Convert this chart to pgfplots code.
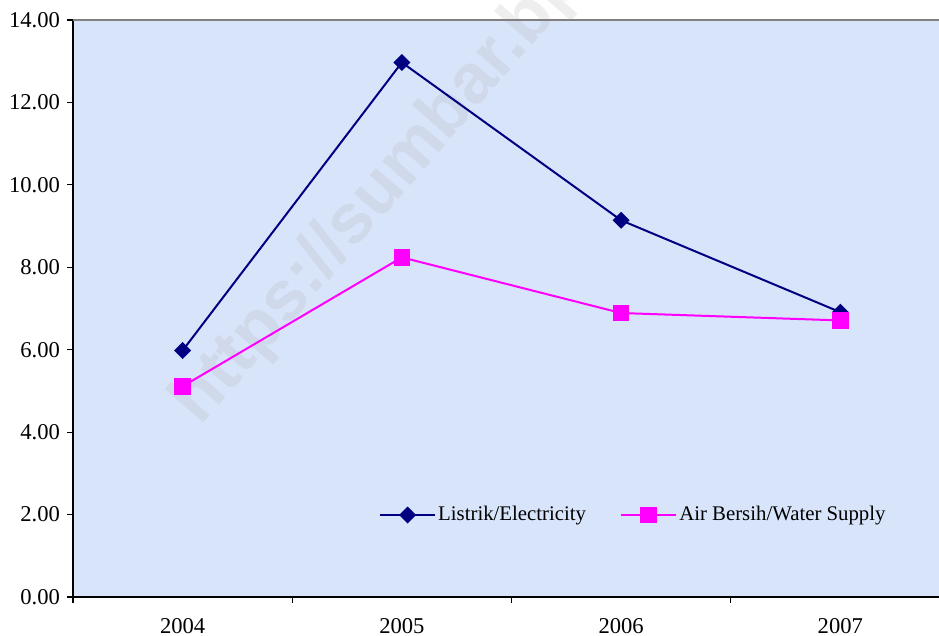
\documentclass[border=0pt]{standalone}
\usepackage{pgfplots}
\pgfplotsset{compat=1.18}
\usepackage{fontspec}
\setmainfont{Liberation Serif}
\newfontfamily\wmfont{Liberation Sans}
\definecolor{bgblue}{RGB}{216,228,250}
\definecolor{navyline}{RGB}{0,0,128}
\definecolor{magline}{RGB}{255,0,255}
\begin{document}
\begin{tikzpicture}
\begin{axis}[
  scale only axis,
  width=433pt, height=288.5pt,
  xmin=-0.5, xmax=3.45,
  ymin=0, ymax=14,
  axis background/.style={fill=bgblue},
  axis x line*=bottom, axis y line*=left,
  axis line style={black, line width=0.6pt},
  xtick={0,1,2,3},
  xticklabels={2004,2005,2006,2007},
  major x tick style={draw=none},
  minor xtick={-0.5,0.5,1.5,2.5},
  minor tick length=3pt,
  xticklabel style={yshift=-4pt},
  ytick={0,2,4,6,8,10,12,14},
  major tick length=3pt,
  tick align=outside,
  tick style={black, line width=0.6pt},
  /pgf/number format/assume math mode=true,
  yticklabel={\pgfmathprintnumber[fixed,fixed zerofill,precision=2]{\tick}},
  ticklabel style={font=\fontsize{11.3}{13}\selectfont},
  clip=false,
  legend style={draw=none, fill=none, at={(0.346,0.142)}, anchor=west,
    font=\fontsize{10.4}{12}\selectfont, legend columns=2,
    /tikz/every even column/.append style={column sep=15pt},
    /tikz/every odd column/.append style={column sep=-1pt}},
  legend image code/.code={
    \draw[mark repeat=2,mark phase=2] plot coordinates {(0cm,0cm) (0.485cm,0cm) (0.97cm,0cm)};},
]
\node[rotate=49, anchor=base west, font=\wmfont\bfseries\fontsize{35}{38}\selectfont,
  text=gray!60, opacity=0.22] at (axis cs:0.06,4.0) {https://sumbar.bps.go.id};
\addplot[navyline, line width=1pt, mark=square*, mark size=2.5pt,
  mark options={rotate=45, solid, fill=navyline}]
  coordinates {(0,5.98) (1,12.97) (2,9.14) (3,6.91)};
\addlegendentry{Listrik/Electricity}
\addplot[magline, line width=1pt, mark=square*, mark size=3.6pt,
  mark options={solid, fill=magline}]
  coordinates {(0,5.11) (1,8.24) (2,6.89) (3,6.71)};
\addlegendentry{Air Bersih/Water Supply}
\end{axis}
\draw[gray, line width=0.8pt] (current axis.north west) -- (current axis.north east);
\pgfresetboundingbox
\path (current axis.south west) ++(-36.5pt,-19.5pt) coordinate (bbA);
\path (current axis.north east) ++(0pt,10pt) coordinate (bbB);
\useasboundingbox (bbA) rectangle (bbB);
\end{tikzpicture}
\end{document}
